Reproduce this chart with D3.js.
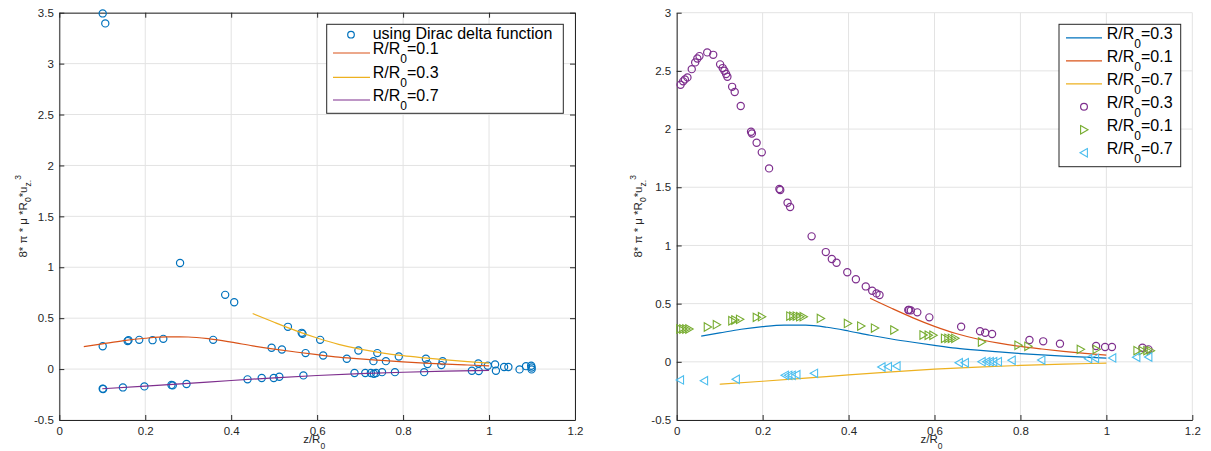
<!DOCTYPE html>
<html>
<head>
<meta charset="utf-8">
<script src="https://cdn.jsdelivr.net/npm/d3@7"></script>
<style>
  body { margin: 0; background: #fff; }
  svg { display: block; font-family: "Liberation Sans", Arial, Helvetica, sans-serif; }
</style>
</head>
<body>
<svg id="chart" width="1211" height="451"></svg>
<script>
// ---- tick values ----
const xTicks = [0, 0.2, 0.4, 0.6, 0.8, 1, 1.2];
const leftYTicks = [-0.5, 0, 0.5, 1, 1.5, 2, 2.5, 3, 3.5];
const rightYTicks = [-0.5, 0, 0.5, 1, 1.5, 2, 2.5, 3];

// ---- fitted curves (shared by both panels) ----
const fitAX = [0.057, 0.1, 0.15, 0.2, 0.25, 0.3, 0.35, 0.4, 0.45, 0.5, 0.55, 0.6, 0.65, 0.7, 0.75, 0.8, 0.85, 0.9, 0.95, 1.0];
const fitAY = [0.22, 0.248, 0.28, 0.303, 0.316, 0.315, 0.297, 0.265, 0.228, 0.196, 0.168, 0.142, 0.118, 0.1, 0.085, 0.071, 0.059, 0.049, 0.04, 0.032];
const fitBX = [0.45, 0.5, 0.55, 0.6, 0.65, 0.7, 0.75, 0.8, 0.85, 0.9, 0.95, 1.0];
const fitBY = [0.546, 0.46, 0.378, 0.305, 0.243, 0.196, 0.16, 0.132, 0.11, 0.09, 0.073, 0.058];
const fitCX = [0.1, 0.2, 0.3, 0.4, 0.5, 0.6, 0.7, 0.8, 0.9, 1.0];
const fitCY = [-0.193, -0.167, -0.14, -0.112, -0.086, -0.063, -0.045, -0.031, -0.02, -0.012];

// ---- left panel: Dirac delta results ----
const diracX = [0.101, 0.107, 0.101, 0.159, 0.161, 0.186, 0.217, 0.242, 0.281, 0.358, 0.386, 0.407, 0.494, 0.518, 0.532,
  0.564, 0.566, 0.573, 0.607, 0.614, 0.696, 0.740, 0.790, 0.853, 0.892, 0.975, 0.669, 0.731, 0.760, 0.857, 0.889,
  0.997, 1.014, 1.016, 1.035, 1.045, 1.071, 1.086, 1.098, 1.099, 1.099, 0.101, 0.102, 0.148, 0.198, 0.261, 0.264,
  0.296, 0.438, 0.471, 0.499, 0.512, 0.568, 0.687, 0.712, 0.725, 0.732, 0.737, 0.751, 0.781, 0.849, 0.960, 0.976];
const diracY = [3.493, 3.395, 0.225, 0.275, 0.284, 0.287, 0.284, 0.297, 1.042, 0.287, 0.729, 0.657, 0.209, 0.193, 0.415,
  0.356, 0.346, 0.157, 0.287, 0.134, 0.183, 0.157, 0.124, 0.101, 0.078, 0.055, 0.101, 0.078, 0.078, 0.049, 0.039,
  0.033, 0.046, -0.016, 0.02, 0.02, -0.003, 0.029, 0.033, 0.016, -0.003, -0.193, -0.196, -0.18, -0.17, -0.157, -0.16,
  -0.147, -0.101, -0.088, -0.088, -0.075, -0.062, -0.039, -0.039, -0.039, -0.046, -0.039, -0.03, -0.03, -0.03, -0.016, -0.02];

// ---- right panel: markers ----
const circ03X = [0.009, 0.015, 0.019, 0.025, 0.035, 0.043, 0.048, 0.053, 0.071, 0.085, 0.101, 0.107, 0.111, 0.115, 0.118,
  0.129, 0.135, 0.149, 0.173, 0.175, 0.186, 0.198, 0.215, 0.239, 0.241, 0.258, 0.264, 0.314, 0.347, 0.361, 0.372,
  0.397, 0.417, 0.44, 0.455, 0.465, 0.472, 0.539, 0.541, 0.545, 0.56, 0.588, 0.662, 0.706, 0.718, 0.734, 0.821,
  0.853, 0.892, 0.976, 0.997, 1.013, 1.084, 1.098];
const circ03Y = [2.381, 2.41, 2.427, 2.444, 2.515, 2.573, 2.607, 2.627, 2.659, 2.638, 2.556, 2.524, 2.501, 2.473, 2.449,
  2.363, 2.318, 2.198, 1.977, 1.962, 1.882, 1.80, 1.662, 1.485, 1.476, 1.367, 1.33, 1.078, 0.943, 0.883, 0.851,
  0.769, 0.709, 0.648, 0.611, 0.588, 0.574, 0.445, 0.445, 0.442, 0.425, 0.382, 0.302, 0.262, 0.25, 0.239, 0.187,
  0.176, 0.156, 0.136, 0.127, 0.127, 0.121, 0.107];
const tri01X = [0.008, 0.015, 0.022, 0.029, 0.072, 0.093, 0.129, 0.136, 0.147, 0.186, 0.198, 0.264, 0.271, 0.279, 0.287,
  0.295, 0.335, 0.398, 0.429, 0.461, 0.506, 0.574, 0.586, 0.597, 0.624, 0.632, 0.64, 0.648, 0.71, 0.795, 0.818,
  0.94, 0.977, 1.072, 1.084, 1.095, 1.103];
const tri01Y = [0.282, 0.282, 0.282, 0.282, 0.299, 0.319, 0.353, 0.359, 0.365, 0.382, 0.388, 0.393, 0.393, 0.393, 0.388,
  0.388, 0.373, 0.33, 0.307, 0.29, 0.273, 0.23, 0.228, 0.228, 0.202, 0.202, 0.202, 0.202, 0.17, 0.142, 0.133,
  0.107, 0.107, 0.096, 0.096, 0.096, 0.096];
const tri07X = [0.008, 0.064, 0.138, 0.252, 0.26, 0.268, 0.279, 0.32, 0.477, 0.492, 0.512, 0.657, 0.671, 0.71, 0.721,
  0.729, 0.737, 0.748, 0.78, 0.849, 0.958, 0.974, 1.014, 1.07, 1.098];
const tri07Y = [-0.156, -0.162, -0.15, -0.116, -0.116, -0.116, -0.11, -0.099, -0.045, -0.042, -0.036, -0.008, -0.008, 0.001, 0.001,
  0.001, 0.001, 0.001, 0.013, 0.015, 0.027, 0.03, 0.033, 0.039, 0.041];

// ---- legend text ----
const leftLegendLabels = ["using Dirac delta function", "0.1", "0.3", "0.7"];
const rightLegendLabels = ["0.3", "0.1", "0.7", "0.3", "0.1", "0.7"];

// ---- colours (MATLAB default order) ----
const C = {
  blue: "#0072BD", orange: "#D95319", yellow: "#EDB120",
  purple: "#7E2F8E", green: "#77AC30", cyan: "#4DBEEE"
};
const AXIS = "#262626";
const GRID = "#e3e3e3";

const svg = d3.select("#chart");
const zip = (xs, ys) => xs.map((v, i) => ({ x: v, y: ys[i] }));

// Mixed text with sub/superscripts: parts = [[text, "sub"|"sup"|undefined], ...]
function richText(sel, parts, size, subSize, subShift, supShift) {
  let offset = 0;
  parts.forEach(([t, kind]) => {
    let target = 0, fs = size;
    if (kind === "sub") { target = subShift; fs = subSize; }
    if (kind === "sup") { target = -supShift; fs = subSize; }
    sel.append("tspan").attr("dy", target - offset).attr("font-size", fs).text(t);
    offset = target;
  });
}

const TOP = 12.7, BOTTOM = 420;

function makePanel(p) {
  const g = svg.append("g");
  const x = d3.scaleLinear().domain([0, 1.2]).range([p.left, p.right]);
  const y = d3.scaleLinear().domain(p.yDomain).range([BOTTOM, TOP]);

  // grid
  g.append("g").selectAll("line").data(xTicks).join("line")
    .attr("x1", d => x(d)).attr("x2", d => x(d)).attr("y1", BOTTOM).attr("y2", TOP)
    .attr("stroke", GRID).attr("stroke-width", 1);
  g.append("g").selectAll("line").data(p.yTicks).join("line")
    .attr("x1", p.left).attr("x2", p.right).attr("y1", d => y(d)).attr("y2", d => y(d))
    .attr("stroke", GRID).attr("stroke-width", 1);

  const styleAxis = sel => {
    sel.attr("font-size", 11.5).attr("font-family", "Liberation Sans, Arial, sans-serif");
    sel.selectAll("path, line").attr("stroke", AXIS).attr("stroke-width", 1);
    sel.selectAll("text").attr("fill", AXIS);
  };

  g.append("g").attr("transform", `translate(0,${BOTTOM})`)
    .call(d3.axisBottom(x).tickValues(xTicks).tickSize(-5).tickSizeOuter(0).tickPadding(6.5).tickFormat(d => String(d)))
    .call(styleAxis);
  g.append("g").attr("transform", `translate(${p.left},0)`)
    .call(d3.axisLeft(y).tickValues(p.yTicks).tickSize(-5).tickSizeOuter(0).tickPadding(5.5).tickFormat(d => String(d)))
    .call(styleAxis);

  if (p.box) {
    g.append("g").attr("transform", `translate(0,${TOP})`)
      .call(d3.axisTop(x).tickValues(xTicks).tickSize(-5).tickSizeOuter(0).tickFormat(""))
      .call(styleAxis);
    g.append("g").attr("transform", `translate(${p.right},0)`)
      .call(d3.axisRight(y).tickValues(p.yTicks).tickSize(-5).tickSizeOuter(0).tickFormat(""))
      .call(styleAxis);
  }

  // axis titles
  const xl = g.append("text").attr("x", (p.left + p.right) / 2 - 3).attr("y", 443)
    .attr("text-anchor", "middle").attr("fill", AXIS).attr("font-size", 11.5);
  richText(xl, [["z/R"], ["0", "sub"]], 11.5, 8.5, 6, 0);

  const yl = g.append("text")
    .attr("transform", `translate(${p.yLabelX},${(TOP + BOTTOM) / 2}) rotate(-90)`)
    .attr("text-anchor", "middle").attr("fill", AXIS).attr("font-size", 11.5);
  richText(yl, [["8* π * μ *R"], ["0", "sub"], ["*u"], ["z", "sub"], [".", "sub"], ["3", "sup"]], 11.5, 8.5, 4, 6);

  return { g, x, y };
}

const triRight = "M-3.4,-4.2L4,0L-3.4,4.2Z";
const triLeft = "M3.4,-4.2L-4,0L3.4,4.2Z";

function drawLine(panel, xs, ys, color) {
  const line = d3.line().x(d => panel.x(d.x)).y(d => panel.y(d.y)).curve(d3.curveMonotoneX);
  panel.g.append("path").datum(zip(xs, ys)).attr("d", line)
    .attr("fill", "none").attr("stroke", color).attr("stroke-width", 1.2);
}

function drawCircles(panel, xs, ys, color) {
  panel.g.append("g").selectAll("circle").data(zip(xs, ys)).join("circle")
    .attr("cx", d => panel.x(d.x)).attr("cy", d => panel.y(d.y)).attr("r", 3.6)
    .attr("fill", "none").attr("stroke", color).attr("stroke-width", 1.2);
}

function drawTriangles(panel, xs, ys, color, shape) {
  panel.g.append("g").selectAll("path").data(zip(xs, ys)).join("path")
    .attr("transform", d => `translate(${panel.x(d.x)},${panel.y(d.y)})`)
    .attr("d", shape).attr("fill", "none").attr("stroke", color).attr("stroke-width", 1.1);
}

// ================= left panel =================
const L = makePanel({ left: 59.3, right: 575, yDomain: [-0.5, 3.5], yTicks: leftYTicks, box: true, yLabelX: 26.7 });
drawCircles(L, diracX, diracY, C.blue);
drawLine(L, fitAX, fitAY, C.orange);
drawLine(L, fitBX, fitBY, C.yellow);
drawLine(L, fitCX, fitCY, C.purple);

// left legend
{
  const lg = L.g.append("g");
  lg.append("rect").attr("x", 326.7).attr("y", 24.3).attr("width", 236.6).attr("height", 89)
    .attr("fill", "#fff").attr("stroke", AXIS).attr("stroke-width", 1);
  const rowsBase = [39.3, 54, 78.3, 101];
  const colors = [C.blue, C.orange, C.yellow, C.purple];
  leftLegendLabels.forEach((lab, i) => {
    const b = rowsBase[i];
    if (i === 0) {
      lg.append("circle").attr("cx", 351).attr("cy", b - 4.6).attr("r", 3.3)
        .attr("fill", "none").attr("stroke", colors[i]).attr("stroke-width", 1.2);
      lg.append("text").attr("x", 372.7).attr("y", b).attr("font-size", 16).attr("fill", "#000").text(lab);
    } else {
      lg.append("line").attr("x1", 333).attr("x2", 370).attr("y1", b - 1).attr("y2", b - 1)
        .attr("stroke", colors[i]).attr("stroke-width", 1.2);
      const t = lg.append("text").attr("x", 372.7).attr("y", b).attr("fill", "#000");
      richText(t, [["R/R"], ["0", "sub"], ["=" + lab]], 16, 12, 8.5, 0);
    }
  });
}

// ================= right panel =================
const R = makePanel({ left: 676.7, right: 1192.3, yDomain: [-0.5, 3], yTicks: rightYTicks, box: false, yLabelX: 641.7 });
drawLine(R, fitAX, fitAY, C.blue);
drawLine(R, fitBX, fitBY, C.orange);
drawLine(R, fitCX, fitCY, C.yellow);
drawCircles(R, circ03X, circ03Y, C.purple);
drawTriangles(R, tri01X, tri01Y, C.green, triRight);
drawTriangles(R, tri07X, tri07Y, C.cyan, triLeft);

// right legend
{
  const lg = R.g.append("g");
  lg.append("rect").attr("x", 1059).attr("y", 24.3).attr("width", 121.7).attr("height", 142.4)
    .attr("fill", "#fff").attr("stroke", AXIS).attr("stroke-width", 1);
  const colors = [C.blue, C.orange, C.yellow, C.purple, C.green, C.cyan];
  rightLegendLabels.forEach((lab, i) => {
    const b = 39.3 + i * 23;
    const cy = b - 1.5;
    if (i < 3) {
      lg.append("line").attr("x1", 1066).attr("x2", 1102).attr("y1", cy).attr("y2", cy)
        .attr("stroke", colors[i]).attr("stroke-width", 1.2);
    } else if (i === 3) {
      lg.append("circle").attr("cx", 1084).attr("cy", cy).attr("r", 3.4)
        .attr("fill", "none").attr("stroke", colors[i]).attr("stroke-width", 1.2);
    } else {
      lg.append("path").attr("transform", `translate(1084,${cy})`).attr("d", i === 4 ? triRight : triLeft)
        .attr("fill", "none").attr("stroke", colors[i]).attr("stroke-width", 1.1);
    }
    const t = lg.append("text").attr("x", 1106.7).attr("y", b).attr("fill", "#000");
    richText(t, [["R/R"], ["0", "sub"], ["=" + lab]], 16, 12, 8.5, 0);
  });
}
</script>
</body>
</html>
